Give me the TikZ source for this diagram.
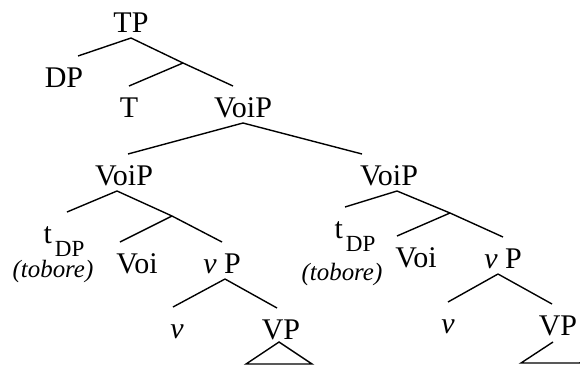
\documentclass[tikz,border=0pt]{standalone}
\usepackage{fontspec}
\setmainfont{Liberation Serif}
\usetikzlibrary{positioning}

% trace with a lowered, smaller subscript
\newcommand{\trace}[1]{t\hspace{3pt}\raisebox{-13pt}{\scalebox{0.77}{#1}}}

\begin{document}
\begin{tikzpicture}[
    x=1pt, y=-1pt,
    cat/.style={
        inner sep=0pt,
        outer ysep=6pt,
        text height=25pt,
        text depth=0pt,
        anchor=base,
        font=\fontsize{30}{36}\selectfont
    },
    gloss/.style={
        inner sep=0pt,
        anchor=base,
        scale=0.83,
        font=\fontsize{30}{36}\selectfont\itshape
    },
    branch/.style={
        line width=1.4pt
    }
]
\useasboundingbox (0,0) rectangle (580,367);

% upper part
\node[cat] (tp) at (131,32) {TP};
\node[cat] (dp) at (64,87) {DP};
\coordinate (tbar) at (183,63);
\node[cat] (t) at (129,117) {T};
\node[cat] (voip) at (243,117) {VoiP};

% left VoiP
\node[cat] (voipL) at (124,185) {VoiP};
\node[cat] (tdpL) at (64,243) {\trace{DP}};
\node[gloss] (toboreL) at (53,277) {(tobore)};
\coordinate (voibarL) at (172,216);
\node[cat] (voiL) at (137,273) {Voi};
\node[cat] (vPL) at (222,273) {{\itshape ν} P};
\node[cat] (vL) at (177,338) {\itshape ν};
\node[cat] (VPL) at (281,339) {VP};

% right VoiP
\node[cat] (voipR) at (389,185) {VoiP};
\node[cat] (tdpR) at (355,238) {\trace{DP}};
\node[gloss] (toboreR) at (342,280) {(tobore)};
\coordinate (voibarR) at (450,213);
\node[cat] (voiR) at (416,267) {Voi};
\node[cat] (vPR) at (503,268) {{\itshape ν} P};
\node[cat] (vR) at (448,333) {\itshape ν};
\node[cat] (VPR) at (558,335) {VP};

\draw[branch] (tp.south) -- ([xshift=14pt]dp.north);
\draw[branch] (tp.south) -- (tbar);
\draw[branch] (tbar) -- (t.north);
\draw[branch] (tbar) -- ([xshift=-10pt]voip.north);
\draw[branch] (voip.south) -- ([xshift=4pt]voipL.north);
\draw[branch] (voip.south) -- ([xshift=-27pt]voipR.north);

\draw[branch] ([xshift=-7pt]voipL.south) -- ([xshift=3pt]tdpL.north);
\draw[branch] ([xshift=-7pt]voipL.south) -- (voibarL);
\draw[branch] (voibarL) -- ([xshift=-17pt]voiL.north);
\draw[branch] (voibarL) -- (vPL.north);
\draw[branch] ([xshift=3pt]vPL.south) -- ([xshift=-4pt]vL.north);
\draw[branch] ([xshift=3pt]vPL.south) -- ([xshift=-4pt]VPL.north);

\draw[branch] ([xshift=8pt]voipR.south) -- ([xshift=-10pt]tdpR.north);
\draw[branch] ([xshift=8pt]voipR.south) -- (voibarR);
\draw[branch] (voibarR) -- ([xshift=-19pt]voiR.north);
\draw[branch] (voibarR) -- (vPR.north);
\draw[branch] ([xshift=-5pt]vPR.south) -- (vR.north);
\draw[branch] ([xshift=-5pt]vPR.south) -- ([xshift=-6pt]VPR.north);

% unexpanded VPs
\draw[branch] ([xshift=-2pt,yshift=3pt]VPL.south) -- ++(-33,22) -- ++(66,0) -- cycle;
\draw[branch] ([xshift=-5pt,yshift=-1pt]VPR.south) -- ++(-32,21) -- ++(59,0) -- ++(0,-1);
\end{tikzpicture}
\end{document}
